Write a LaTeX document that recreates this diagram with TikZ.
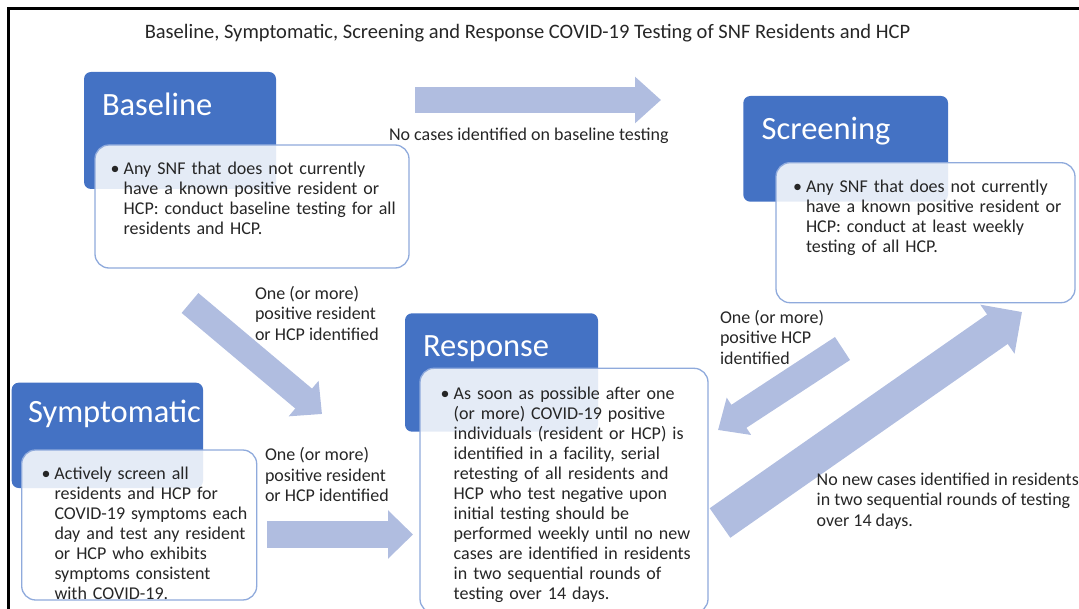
\documentclass[tikz,border=0pt]{standalone}
\usepackage{fontspec}
\setmainfont{Carlito}
\usepackage{tikz}
\usetikzlibrary{arrows.meta}
\pgfdeclarelayer{bg}
\pgfsetlayers{bg,main}
\definecolor{hdblue}{HTML}{4472C4}
\definecolor{bxline}{HTML}{8FAADC}
\definecolor{flowblue}{HTML}{B0BDE0}
\definecolor{txt}{HTML}{262626}
\newcommand{\lines}[1]{\begin{tabular}[t]{@{}l@{}}#1\end{tabular}}
\newcommand{\bul}[1]{\makebox[12pt][l]{\kern-1pt\textbullet}\lines{#1}}
\tikzset{
    every node/.style={inner sep=0pt, outer sep=0pt, text=txt, font=\fontsize{18}{20}\selectfont},
    head/.style={anchor=north west, fill=hdblue, rounded corners=7pt, align=left, text=white, font=\fontsize{32.5}{36}\selectfont},
    body/.style={anchor=north west, draw=bxline, line width=1.3pt, fill=white, fill opacity=.86, text opacity=1, rounded corners=14pt, align=left},
    lbl/.style={anchor=base west, font=\fontsize{18}{20.5}\selectfont},
    flow/.style n args={3}{draw=flowblue, line width=#1pt, -{Triangle[length=#2pt, width=#3pt]}}
}

\begin{document}
\begin{tikzpicture}[x=1pt, y=-1pt]
        \useasboundingbox (0,0) rectangle (1079,609);
        \draw [line width=3pt] (8,615) -- (8,9) -- (1085,9);
        \node (title) [anchor=base, font=\fontsize{20.5}{22}\selectfont] at (527.5,39) {Baseline, Symptomatic, Screening and Response COVID-19 Testing of SNF Residents and HCP};
        \node (blhead) [head, inner xsep=18pt, text width=156pt, text height=43.5pt, text depth=73.5pt] at (84,72) {Baseline};
        \node (blbody) [body, inner xsep=16.7pt, text width=280.6pt, text height=29.5pt, text depth=93.5pt] at (95,145) {\bul{Any SNF that does not currently\\have a known positive resident or\\HCP: conduct baseline testing for all\\residents and HCP.}};
        \node (sshead) [head, inner xsep=18.4pt, text width=167.9pt, text height=44pt, text depth=61.7pt] at (743.3,96) {Screening};
        \node (ssbody) [body, inner xsep=18pt, text width=263pt, text height=30pt, text depth=110pt] at (776,162.7) {\bul{Any SNF that does not currently\\have a known positive resident or\\HCP: conduct at least weekly\\testing of all HCP.}};
        \node (syhead) [head, inner xsep=16.3pt, text width=158.7pt, text height=40.3pt, text depth=65pt] at (11.7,382.7) {Symptomatic};
        \node (sybody) [body, inner xsep=20.8pt, text width=193.4pt, text height=29.3pt, text depth=120.7pt] at (21.7,450) {\bul{Actively screen all\\residents and HCP for\\COVID-19 symptoms each\\day and test any resident\\or HCP who exhibits\\symptoms consistent\\with COVID-19.}};
        \node (rphead) [head, inner xsep=18pt, text width=157pt, text height=43.4pt, text depth=75pt] at (405,313.3) {Response};
        \node (rpbody) [body, inner xsep=21.7pt, text width=244.6pt, text height=31.2pt, text depth=213.5pt] at (420,368.3) {\bul{As soon as possible after one\\(or more) COVID-19 positive\\individuals (resident or HCP) is\\identified in a facility, serial\\retesting of all residents and\\HCP who test negative upon\\initial testing should be\\performed weekly until no new\\cases are identified in residents\\in two sequential rounds of\\testing over 14 days.}};
        \node (nocase) [lbl] at (389,141) {No cases identified on baseline testing};
        \node (posbl) [lbl] at (255,299.5) {\lines{One (or more)\\positive resident\\or HCP identified}};
        \node (possy) [lbl] at (265,460.7) {\lines{One (or more)\\positive resident\\or HCP identified}};
        \node (posss) [lbl] at (720,323.3) {\lines{One (or more)\\positive HCP\\identified}};
        \node (nonew) [lbl] at (816.7,485) {\lines{No new cases identified in residents\\in two sequential rounds of testing\\over 14 days.}};
        \coordinate (f1a) at (415,100);
        \coordinate (f1b) at (661,100);
        \coordinate (f2a) at (190,303);
        \coordinate (f2b) at (322,414);
        \coordinate (f3a) at (267,534.5);
        \coordinate (f3b) at (413,534.5);
        \coordinate (f4a) at (842.5,348.5);
        \coordinate (f4b) at (718,430);
        \coordinate (f5a) at (720,523);
        \coordinate (f5b) at (1022,312);
        \begin{pgfonlayer}{bg}
                \draw [flow={26}{26}{45}] (f1a) -- (f1b);
                \draw [flow={26}{24}{45}] (f2a) -- (f2b);
                \draw [flow={27}{25}{47}] (f3a) -- (f3b);
                \draw [flow={27.5}{25}{43}] (f4a) -- (f4b);
                \draw [flow={36}{30}{58}] (f5a) -- (f5b);
        \end{pgfonlayer}
\end{tikzpicture}
\end{document}
